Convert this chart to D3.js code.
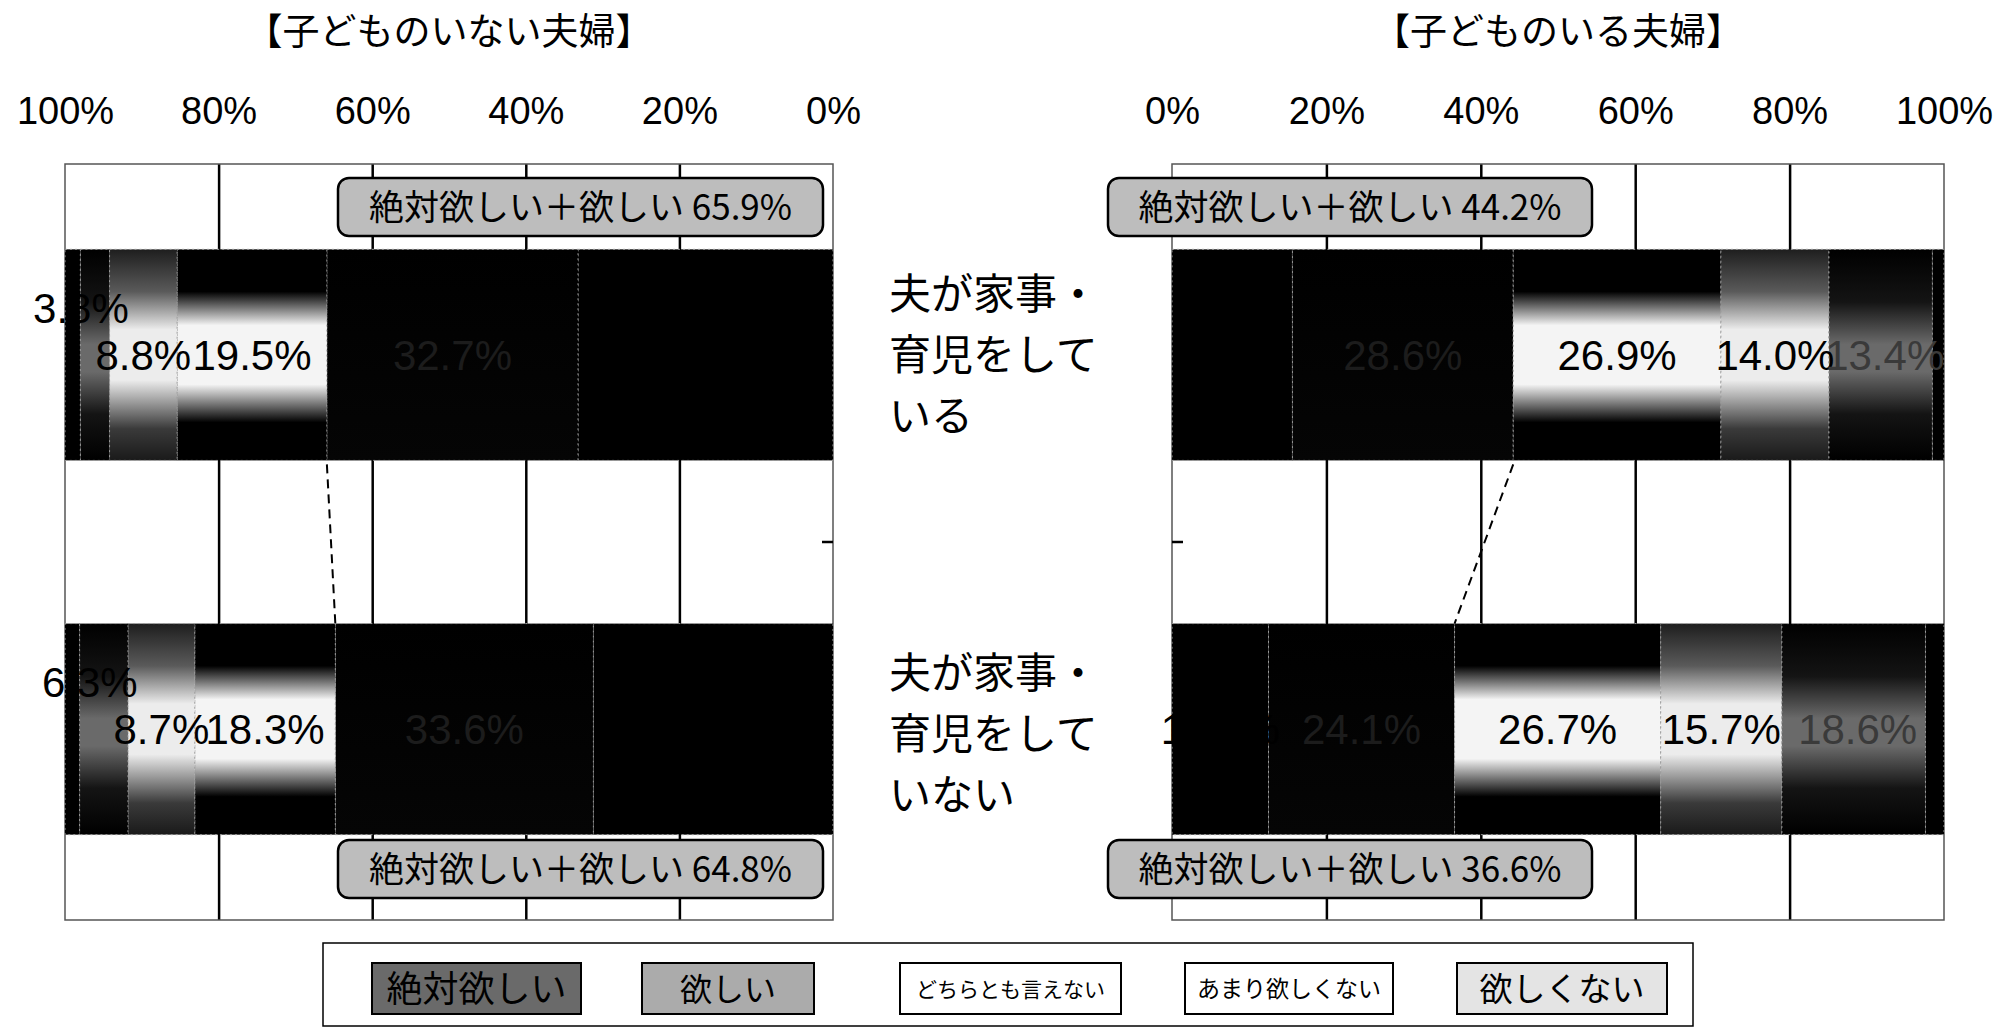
<!DOCTYPE html>
<html>
<head>
<meta charset="utf-8">
<script src="https://cdn.jsdelivr.net/npm/d3@7"></script>
<style>
body{margin:0;background:#fff}
svg{display:block}
</style>
</head>
<body>
<div id="chart"></div>
<script>
// answer categories (stack order from the 0% side), last one is the unlabelled residual
var categories = ["絶対欲しい", "欲しい", "どちらとも言えない", "あまり欲しくない", "欲しくない", "不詳"];
var rows = ["夫が家事・育児をしている", "夫が家事・育児をしていない"];
var rowLines = [["夫が家事・", "育児をして", "いる"], ["夫が家事・", "育児をして", "いない"]];
var ticks = [0, 20, 40, 60, 80, 100];

// 子どものいない夫婦
var noChildDoing = [33.2, 32.7, 19.5, 8.8, 3.8, 2.0];
var noChildNotDoing = [31.2, 33.6, 18.3, 8.7, 6.3, 1.9];
// 子どものいる夫婦
var withChildDoing = [15.6, 28.6, 26.9, 14.0, 13.4, 1.5];
var withChildNotDoing = [12.5, 24.1, 26.7, 15.7, 18.6, 2.4];

var W = 2016, H = 1028;
var plotTop = 164, plotBottom = 920;
var numFont = "'Liberation Sans', Arial, sans-serif";
var jpFont = "'Noto Sans CJK JP', sans-serif";

var svg = d3.select("#chart").append("svg")
    .attr("width", W)
    .attr("height", H);
svg.append("rect")
    .attr("width", W)
    .attr("height", H)
    .attr("fill", "white");

// scanned-looking vertical gradients for each answer
var gradStops = {
  "絶対欲しい": [[0, "#000"], [1, "#000"]],
  "欲しい": [[0, "#000"], [1, "#050505"]],
  "どちらとも言えない": [[0, "#000"], [0.2, "#000"], [0.36, "#f4f4f4"], [0.64, "#f4f4f4"], [0.82, "#000"], [1, "#000"]],
  "あまり欲しくない": [[0, "#1e1e1e"], [0.2, "#5a5a5a"], [0.38, "#ececec"], [0.62, "#ececec"], [0.85, "#3a3a3a"], [1, "#1a1a1a"]],
  "欲しくない": [[0, "#000"], [0.25, "#141414"], [0.45, "#6a6a6a"], [0.58, "#6a6a6a"], [0.78, "#141414"], [1, "#000"]],
  "不詳": [[0, "#000"], [1, "#000"]]
};
var labelColor = {
  "絶対欲しい": "#000",
  "欲しい": "#1c1c1c",
  "どちらとも言えない": "#000",
  "あまり欲しくない": "#000",
  "欲しくない": "#3a3a3a"
};

var defs = svg.append("defs");
categories.forEach(function(c, i){
  var lg = defs.append("linearGradient")
      .attr("id", "g" + i)
      .attr("x1", 0).attr("y1", 0).attr("x2", 0).attr("y2", 1);
  gradStops[c].forEach(function(s){
    lg.append("stop").attr("offset", s[0]).attr("stop-color", s[1]);
  });
});

var yScale = d3.scaleBand()
    .domain(rows)
    .range([plotTop, plotBottom])
    .paddingInner(0.436)
    .paddingOuter(0.228);
var bw = yScale.bandwidth();

var panels = [
  {
    title: "【子どものいない夫婦】",
    values: [noChildDoing, noChildNotDoing],
    x: d3.scaleLinear().domain([0, 100]).range([833, 65]),
    boxX: 338, boxW: 485, tickDir: -1, left: true
  },
  {
    title: "【子どものいる夫婦】",
    values: [withChildDoing, withChildNotDoing],
    x: d3.scaleLinear().domain([0, 100]).range([1172, 1944]),
    boxX: 1108, boxW: 484, tickDir: 1, left: false
  }
];

var fmt = d3.format(".1f");

panels.forEach(function(p){
  var x = p.x;
  var x0 = d3.min(x.range()), x1 = d3.max(x.range());
  var g = svg.append("g");

  var table = rows.map(function(r, i){
    var o = {row: r};
    categories.forEach(function(c, j){ o[c] = p.values[i][j]; });
    return o;
  });
  var series = d3.stack().keys(categories)(table);

  // title
  g.append("text")
      .attr("x", (x0 + x1) / 2)
      .attr("y", 45)
      .attr("text-anchor", "middle")
      .style("font-family", jpFont)
      .style("font-size", "37px")
      .text(p.title);

  // percent axis on top
  var ax = g.append("g")
      .attr("transform", "translate(0,124)")
      .call(d3.axisTop(x).tickValues(ticks).tickSize(0).tickPadding(0).tickFormat(function(d){ return d + "%"; }));
  ax.select(".domain").remove();
  ax.selectAll("text")
      .style("font-family", numFont)
      .style("font-size", "38px")
      .attr("fill", "#000");

  // gridlines
  var grid = g.append("g")
      .attr("transform", "translate(0," + plotBottom + ")")
      .call(d3.axisBottom(x).tickValues([20, 40, 60, 80]).tickSize(-(plotBottom - plotTop)).tickFormat(""));
  grid.select(".domain").remove();
  grid.selectAll("line").attr("stroke", "#000").attr("stroke-width", 2.5);

  // frame
  g.append("rect")
      .attr("x", x0)
      .attr("y", plotTop)
      .attr("width", x1 - x0)
      .attr("height", plotBottom - plotTop)
      .attr("fill", "none")
      .attr("stroke", "#555")
      .attr("stroke-width", 1.5);

  // category boundary tick
  var edge = p.left ? x1 : x0;
  var mid = (yScale(rows[0]) + bw + yScale(rows[1])) / 2;
  g.append("line")
      .attr("x1", edge).attr("x2", edge + p.tickDir * 11)
      .attr("y1", mid).attr("y2", mid)
      .attr("stroke", "#000").attr("stroke-width", 2.5);

  // stacked bars
  series.forEach(function(s, i){
    g.append("g").selectAll("rect")
      .data(s)
      .enter().append("rect")
        .attr("x", function(d){ return Math.min(x(d[0]), x(d[1])); })
        .attr("y", function(d){ return yScale(d.data.row); })
        .attr("width", function(d){ return Math.abs(x(d[1]) - x(d[0])); })
        .attr("height", bw)
        .attr("fill", "url(#g" + i + ")")
        .attr("stroke", "#9a9a9a")
        .attr("stroke-width", 1)
        .attr("stroke-dasharray", "2,3");
  });

  // segment labels
  series.forEach(function(s){
    if (s.key == "不詳") return;
    var small = p.left && s.key == "欲しくない";   // nudged up-left like the source
    g.append("g").selectAll("text")
      .data(s)
      .enter().append("text")
        .attr("x", function(d){ return x((d[0] + d[1]) / 2) - (small ? 14 : 0) + (!p.left && s.key == "欲しくない" ? 4 : 0); })
        .attr("y", function(d){ return yScale(d.data.row) + bw / 2 - (small ? 47 : 0); })
        .attr("dy", "0.36em")
        .attr("text-anchor", "middle")
        .attr("fill", small ? "#000" : labelColor[s.key])
        .style("font-family", numFont)
        .style("font-size", "42px")
        .text(function(d){ return fmt(d[1] - d[0]) + "%"; });
  });

  // 絶対欲しい＋欲しい summary boxes and connector
  var want = series[1];
  var boxY = [178, 840];
  want.forEach(function(d, i){
    var bx = g.append("g");
    bx.append("rect")
        .attr("x", p.boxX)
        .attr("y", boxY[i])
        .attr("width", p.boxW)
        .attr("height", 58)
        .attr("rx", 11)
        .attr("fill", "#bdbdbd")
        .attr("stroke", "#000")
        .attr("stroke-width", 2.5);
    bx.append("text")
        .attr("x", p.boxX + p.boxW / 2)
        .attr("y", boxY[i] + 29)
        .attr("dy", "0.36em")
        .attr("text-anchor", "middle")
        .style("font-family", jpFont)
        .style("font-size", "35px")
        .text("絶対欲しい＋欲しい  " + fmt(d[1]) + "%");
  });
  g.append("line")
      .attr("x1", x(want[0][1]))
      .attr("y1", yScale(rows[0]) + bw + 4)
      .attr("x2", x(want[1][1]))
      .attr("y2", yScale(rows[1]))
      .attr("stroke", "#000")
      .attr("stroke-width", 2)
      .attr("stroke-dasharray", "9,6");
});

// row labels between the two panels
rowLines.forEach(function(lines, i){
  var cy = yScale(rows[i]) + bw / 2 + (i == 1 ? 5 : 0);
  svg.append("text")
      .attr("x", 889)
      .attr("y", cy)
      .style("font-family", jpFont)
      .style("font-size", "42px")
    .selectAll("tspan")
      .data(lines)
      .enter().append("tspan")
        .attr("x", 889)
        .attr("y", function(d, j){ return cy + (j - 1) * 61; })
        .attr("dy", "0.36em")
        .text(function(d){ return d; });
});

// legend
var legendCats = categories.slice(0, 5);
var legendFill = ["#6a6a6a", "#ababab", "#ffffff", "#ffffff", "#e4e4e4"];
var legendX = [372, 642, 900, 1185, 1457];
var legendW = [209, 172, 221, 208, 210];
var legendSize = [36, 32, 21, 23, 33];
svg.append("rect")
    .attr("x", 323)
    .attr("y", 943)
    .attr("width", 1370)
    .attr("height", 83)
    .attr("fill", "white")
    .attr("stroke", "#000")
    .attr("stroke-width", 1.5);
var leg = svg.append("g").selectAll("g")
    .data(legendCats)
    .enter().append("g");
leg.append("rect")
    .attr("x", function(d, i){ return legendX[i]; })
    .attr("y", 963)
    .attr("width", function(d, i){ return legendW[i]; })
    .attr("height", 51)
    .attr("fill", function(d, i){ return legendFill[i]; })
    .attr("stroke", "#000")
    .attr("stroke-width", 2);
leg.append("text")
    .attr("x", function(d, i){ return legendX[i] + legendW[i] / 2; })
    .attr("y", 989)
    .attr("dy", "0.36em")
    .attr("text-anchor", "middle")
    .style("font-family", jpFont)
    .style("font-size", function(d, i){ return legendSize[i] + "px"; })
    .text(function(d){ return d; });
</script>
</body>
</html>
